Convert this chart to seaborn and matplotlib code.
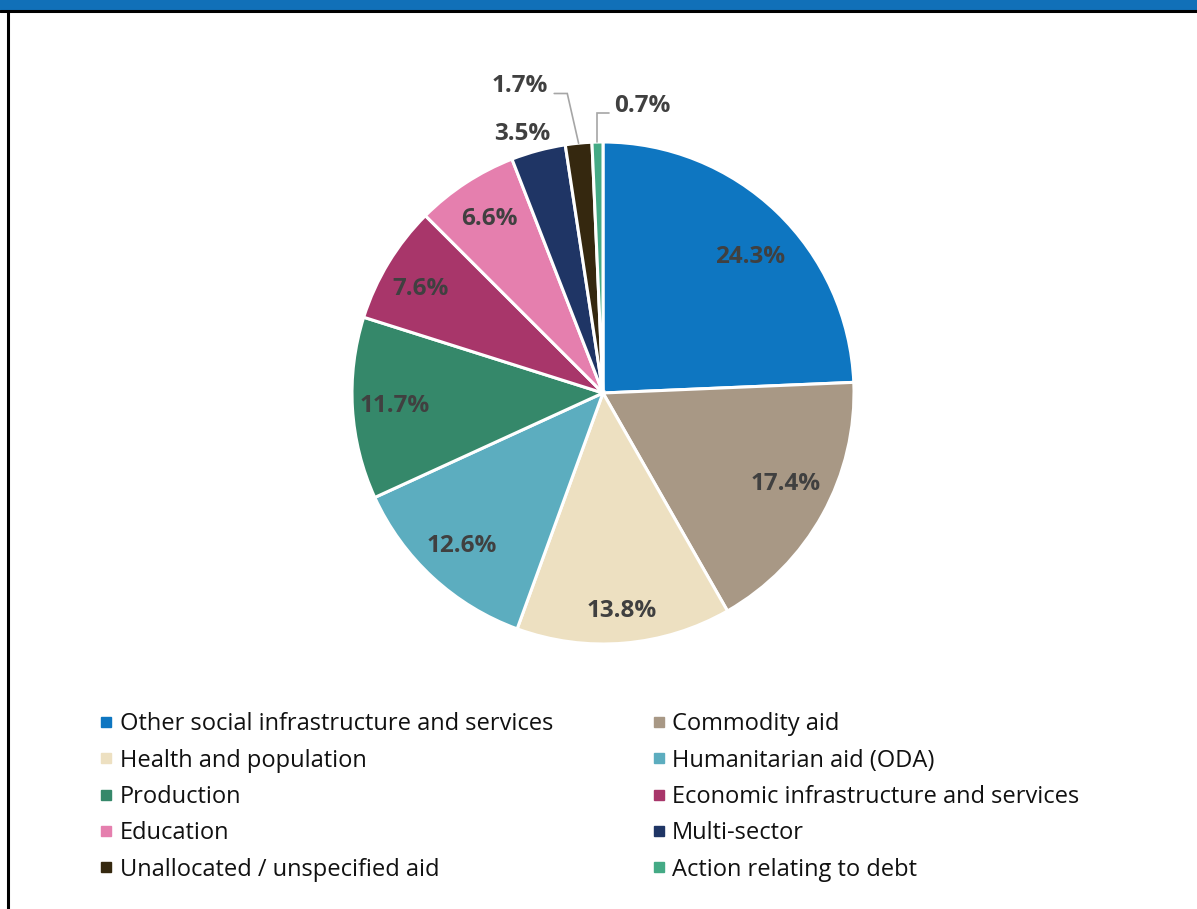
import numpy as np
import matplotlib
matplotlib.use("Agg")
import matplotlib.pyplot as plt
from matplotlib.lines import Line2D
from matplotlib.patches import Rectangle
import seaborn as sns

sectors = [
    "Other social infrastructure and services",
    "Commodity aid",
    "Health and population",
    "Humanitarian aid (ODA)",
    "Production",
    "Economic infrastructure and services",
    "Education",
    "Multi-sector",
    "Unallocated / unspecified aid",
    "Action relating to debt",
]
shares = [24.3, 17.4, 13.8, 12.6, 11.7, 7.6, 6.6, 3.5, 1.7, 0.7]
colors = [
    "#0E76C1", "#A89885", "#EDE0C1", "#5CADBF", "#35886A",
    "#A8366A", "#E57FAE", "#1F3565", "#35280F", "#44AA85",
]

sns.set_theme(style="white")
plt.rcParams["font.family"] = ["Open Sans", "DejaVu Sans"]

fig = plt.figure(figsize=(11.97, 9.09), dpi=100)
W, H = 1197, 909

# pie area: centre (603, 393) px, radius ~251 px
R = 251
ax = fig.add_axes([(603 - R) / W, 1 - (393 + R) / H, 2 * R / W, 2 * R / H])
ax.set_aspect("equal")

wedges, _ = ax.pie(
    shares, colors=colors, startangle=90, counterclock=False,
    radius=1.0, wedgeprops=dict(edgecolor="white", linewidth=2.2),
)
ax.set_xlim(-1, 1)
ax.set_ylim(-1, 1)

label_kw = dict(fontsize=17.5, fontweight="bold", color="#404040",
                ha="center", va="center")

# radial position of the inside labels (fraction of the radius) and small nudges
inner_r = {0: 0.79, 2: 0.87}
nudge = {0: (0.04, -0.03), 1: (0.0, 0.04), 5: (-0.018, -0.017)}

for i, (w, v) in enumerate(zip(wedges, shares)):
    mid = np.deg2rad((w.theta1 + w.theta2) / 2)
    c, s = np.cos(mid), np.sin(mid)
    lab = f"{v:.1f}%"
    if v >= 5:
        r = inner_r.get(i, 0.83)
        dx, dy = nudge.get(i, (0.0, 0.0))
        ax.text(r * c + dx, r * s + dy, lab, **label_kw)
    elif v >= 3:
        ax.text(1.13 * c - 0.03, 1.07 * s, lab, clip_on=False, **label_kw)
    elif v >= 1:
        # leader going up-left from the wedge tip
        x0, y0 = 1.0 * c, 1.0 * s
        x1, y1 = x0 - 0.045, y0 + 0.198
        x2 = x1 - 0.052
        ax.plot([x0, x1, x2], [y0, y1, y1], color="#A6A6A6", lw=1.2,
                clip_on=False, solid_joinstyle="miter")
        ax.text(x2 - 0.025, y1 + 0.03, lab, clip_on=False,
                **{**label_kw, "ha": "right"})
    else:
        x0, y0 = 1.0 * c, 1.0 * s
        x1, y1 = x0, y0 + 0.115
        x2 = x1 + 0.045
        ax.plot([x0, x1, x2], [y0, y1, y1], color="#A6A6A6", lw=1.2,
                clip_on=False, solid_joinstyle="miter")
        ax.text(x2 + 0.02, y1 + 0.03, lab, clip_on=False,
                **{**label_kw, "ha": "left"})

# legend: two columns filled row by row
order = [0, 2, 4, 6, 8, 1, 3, 5, 7, 9]
handles = [Line2D([], [], marker="s", linestyle="none", markersize=7.3,
                  markerfacecolor=colors[i], markeredgecolor=colors[i])
           for i in order]
labels = [sectors[i] for i in order]
fig.legend(handles, labels, ncol=2, frameon=False, fontsize=17.0,
           loc="upper left", bbox_to_anchor=(90 / W, 1 - 703 / H),
           handlelength=0.55, handletextpad=0.3, columnspacing=4.2,
           labelspacing=0.52, borderaxespad=0, labelcolor="#111111")

# header band and frame
fig.patches.append(Rectangle((0, 1 - 10 / H), 1, 10 / H, transform=fig.transFigure,
                             facecolor="#1170B8", edgecolor="none", zorder=5))
fig.lines.append(Line2D([0, 1], [1 - 11 / H, 1 - 11 / H], transform=fig.transFigure,
                        color="black", lw=2.2, zorder=6))
fig.lines.append(Line2D([7.5 / W, 7.5 / W], [0, 1 - 11 / H], transform=fig.transFigure,
                        color="black", lw=2.2, zorder=6))

fig.savefig("out.png", dpi=100, facecolor="white")
